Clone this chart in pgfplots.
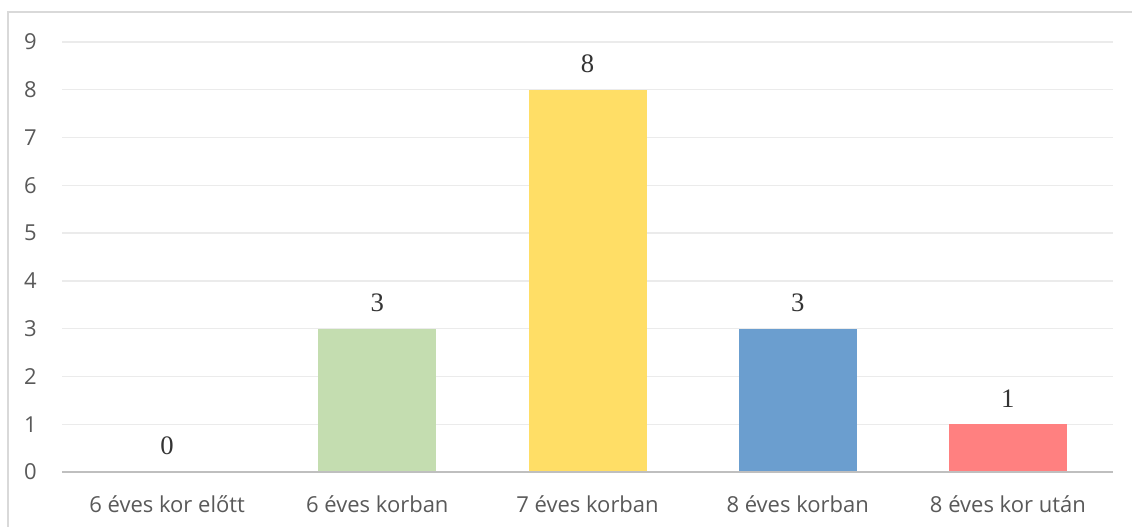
\documentclass[border=0pt]{standalone}
\usepackage{pgfplots}
\pgfplotsset{compat=1.18}
\usepackage{fontspec}
\setmainfont{Open Sans}
\newfontfamily\labelserif{Liberation Serif}
\definecolor{cgreen}{HTML}{C4DDB0}
\definecolor{cyellow}{HTML}{FFDE66}
\definecolor{cblue}{HTML}{6B9ECF}
\definecolor{cred}{HTML}{FF8080}
\definecolor{gridc}{HTML}{EBEBEB}
\definecolor{axisc}{HTML}{BFBFBF}
\definecolor{framec}{HTML}{D9D9D9}
\definecolor{textc}{HTML}{595959}
\begin{document}
\begin{tikzpicture}
\path[use as bounding box] (-46.5pt,-41.25pt) rectangle (802.5pt,354pt);
\draw[framec, line width=1pt] (-40.5pt,-41.25pt) -- (-40.5pt,345pt) -- (802.5pt,345pt);
\begin{axis}[
  at={(0,0)}, anchor=south west,
  scale only axis,
  width=788.25pt, height=322.5pt,
  xmin=-0.5, xmax=4.5,
  ymin=0, ymax=9,
  ytick={0,1,...,9},
  xtick={0,1,2,3,4},
  xticklabels={6 éves kor előtt,6 éves korban,7 éves korban,8 éves korban,8 éves kor után},
  /pgf/number format/assume math mode=true,
  major tick length=0pt,
  ymajorgrids,
  grid style={gridc, line width=1pt},
  axis line style={draw=none},
  axis x line*=bottom,
  axis y line*=left,
  ticklabel style={font=\fontsize{16.5}{19}\selectfont, text=textc},
  yticklabel style={anchor=east, inner sep=0pt, xshift=-18.75pt},
  xticklabel style={anchor=base, yshift=-30.75pt},
  ybar, bar width=88.5pt,
  nodes near coords,
  every node near coord/.append style={font=\labelserif\fontsize{20}{24}\selectfont, text=black!80, anchor=base, yshift=12.75pt},
  clip=false,
]
\addplot[fill=cgreen, draw=none, bar shift=0pt] coordinates {(0,0)};
\addplot[fill=cgreen, draw=none, bar shift=0pt] coordinates {(1,3)};
\addplot[fill=cyellow, draw=none, bar shift=0pt] coordinates {(2,8)};
\addplot[fill=cblue, draw=none, bar shift=0pt] coordinates {(3,3)};
\addplot[fill=cred, draw=none, bar shift=0pt] coordinates {(4,1)};
\draw[axisc, line width=1.9pt] (axis cs:-0.5,0) -- (axis cs:4.5,0);
\end{axis}
\end{tikzpicture}
\end{document}
